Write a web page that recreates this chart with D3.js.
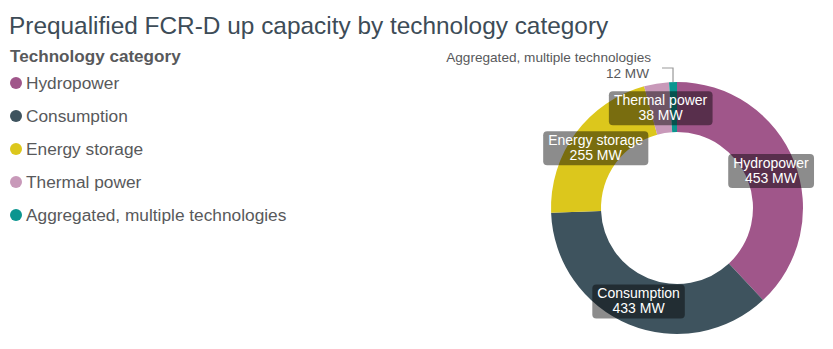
<!DOCTYPE html>
<html><head><meta charset="utf-8">
<script src="https://cdn.jsdelivr.net/npm/d3@7"></script>
<style>body{margin:0;background:#fff;} svg text{font-family:"Liberation Sans",Arial,Helvetica,sans-serif;}</style>
</head><body>
<svg id="chart" width="833" height="349"></svg>
<script>
const categories = ["Hydropower","Consumption","Energy storage","Thermal power","Aggregated, multiple technologies"];
const values = [453,433,255,38,12];
const colors = ["#a0568a","#3e535e","#dcc71c","#c899b9","#0b958f"];
const unit = "MW";
const title = "Prequalified FCR-D up capacity by technology category";
const legendTitle = "Technology category";

const svg = d3.select("#chart");
svg.append("text").attr("x",9).attr("y",34).attr("font-size",24.4).attr("fill","#3d4c57").text(title);
svg.append("text").attr("x",10).attr("y",62).attr("font-size",17.1).attr("font-weight","bold").attr("fill","#58595b").text(legendTitle);

const lg = svg.append("g");
categories.forEach((c,i)=>{
  const y = 83 + i*33;
  lg.append("circle").attr("cx",16).attr("cy",y).attr("r",6).attr("fill",colors[i]);
  lg.append("text").attr("x",26).attr("y",y+6).attr("font-size",17.3).attr("fill","#58595b").text(c);
});

const cx=677, cy=208, R=126, r=76;
const pie = d3.pie().sort(null).value(d=>d)(values);
const arc = d3.arc().innerRadius(r).outerRadius(R);
const g = svg.append("g").attr("transform",`translate(${cx},${cy})`);
g.selectAll("path").data(pie).join("path").attr("d",arc).attr("fill",(d,i)=>colors[i]);

const labelArc = d3.arc().innerRadius(101).outerRadius(101);
pie.forEach((d,i)=>{
  if (i===4) return;
  const [x,y] = labelArc.centroid(d);
  const t = g.append("text").attr("text-anchor","middle").attr("font-size",14).attr("fill","#fff");
  t.append("tspan").attr("x",x).attr("y",y-3).text(categories[i]);
  t.append("tspan").attr("x",x).attr("y",y+12).text(values[i]+" "+unit);
  const bb = t.node().getBBox();
  g.insert("rect","text").attr("x",bb.x-5).attr("y",bb.y-1).attr("width",bb.width+10).attr("height",bb.height+3)
   .attr("rx",4).attr("fill","rgba(0,0,0,0.45)");
});
const d4 = pie[4];
const mid = (d4.startAngle+d4.endAngle)/2;
const px = Math.sin(mid)*R, py = -Math.cos(mid)*R;
g.append("polyline").attr("points",`${px},${py} ${px},${-140} ${px-11},${-140}`).attr("fill","none").attr("stroke","#999").attr("stroke-width",1.2);
const ot = g.append("text").attr("text-anchor","end").attr("font-size",13.6).attr("fill","#58595b");
ot.append("tspan").attr("x",px-22).attr("y",-146).text(categories[4]);
ot.append("tspan").attr("x",px-24).attr("y",-130).text(values[4]+" "+unit);
</script>
</body></html>
